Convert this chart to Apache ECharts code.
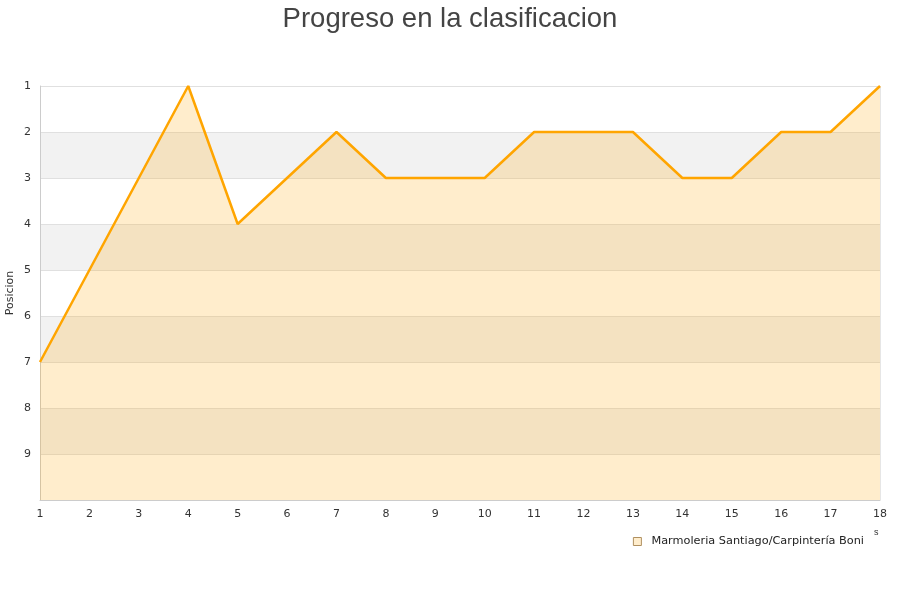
<!DOCTYPE html>
<html>
<head>
<meta charset="utf-8">
<script src="https://cdn.jsdelivr.net/npm/echarts@6/dist/echarts.min.js"></script>
<style>html,body{margin:0;padding:0;background:#fff}#c{width:900px;height:600px}</style>
</head>
<body>
<div id="c"></div>
<script>
var categories = ['1','2','3','4','5','6','7','8','9','10','11','12','13','14','15','16','17','18'];
var positions = [7,5,3,1,4,3,2,3,3,3,2,2,2,3,3,2,2,1];
var seriesName = 'Marmoleria Santiago/Carpintería Boni';
var titleText = 'Progreso en la clasificacion';
var yAxisName = 'Posicion';

var chart = echarts.init(document.getElementById('c'));
chart.setOption({
  animation: false,
  title: {
    text: titleText, left: 'center', top: 0,
    textStyle: { fontSize: 27.5, fontWeight: 'normal', color: '#444', fontFamily: 'Liberation Sans' }
  },
  legend: {
    right: 31, top: 531, icon: 'rect', itemWidth: 8, itemHeight: 8,
    textStyle: { fontSize: 11.3, color: '#222', fontFamily: 'DejaVu Sans', padding: [0, 0, 0, 5] },
    itemStyle: { color: '#FFEDCC', borderColor: '#b09060', borderWidth: 1 }
  },
  grid: { left: 40, right: 20, top: 86, bottom: 100, outerBoundsMode: 'none', containLabel: false },
  xAxis: {
    type: 'category', data: categories, boundaryGap: false,
    name: 's', nameLocation: 'end', nameGap: -6,
    nameTextStyle: { fontSize: 9, color: '#333', padding: [28, 0, 0, 0], verticalAlign: 'top' },
    axisLine: { lineStyle: { color: '#ccc' } },
    axisTick: { show: false },
    axisLabel: { color: '#333', fontSize: 11, margin: 9, fontFamily: 'DejaVu Sans' },
    splitLine: { show: true, lineStyle: { color: '#e6e6e6' }, interval: function(i){ return i === 17; } }
  },
  yAxis: {
    type: 'value', inverse: true, min: 1, max: 10, interval: 1,
    name: yAxisName, nameLocation: 'middle', nameGap: 24, nameMoveOverlap: false,
    nameTextStyle: { fontSize: 11, color: '#333', fontFamily: 'DejaVu Sans' },
    axisLine: { show: true, lineStyle: { color: '#ccc' } },
    axisTick: { show: false },
    axisLabel: { color: '#333', fontSize: 11, margin: 9, fontFamily: 'DejaVu Sans',
      formatter: function(v){ return v === 10 ? '' : v; } },
    splitLine: { show: true, lineStyle: { color: '#e0e0e0' } },
    splitArea: { show: true, areaStyle: { color: ['#ffffff', '#f2f2f2'] } }
  },
  series: [{
    name: seriesName, type: 'line', data: positions,
    showSymbol: false, symbol: 'none',
    lineStyle: { color: '#FFA500', width: 2.5 },
    itemStyle: { color: '#FFEDCC', borderColor: '#b09060' },
    areaStyle: { color: '#FFA500', opacity: 0.2, origin: 'end' }
  }]
});
</script>
</body>
</html>
